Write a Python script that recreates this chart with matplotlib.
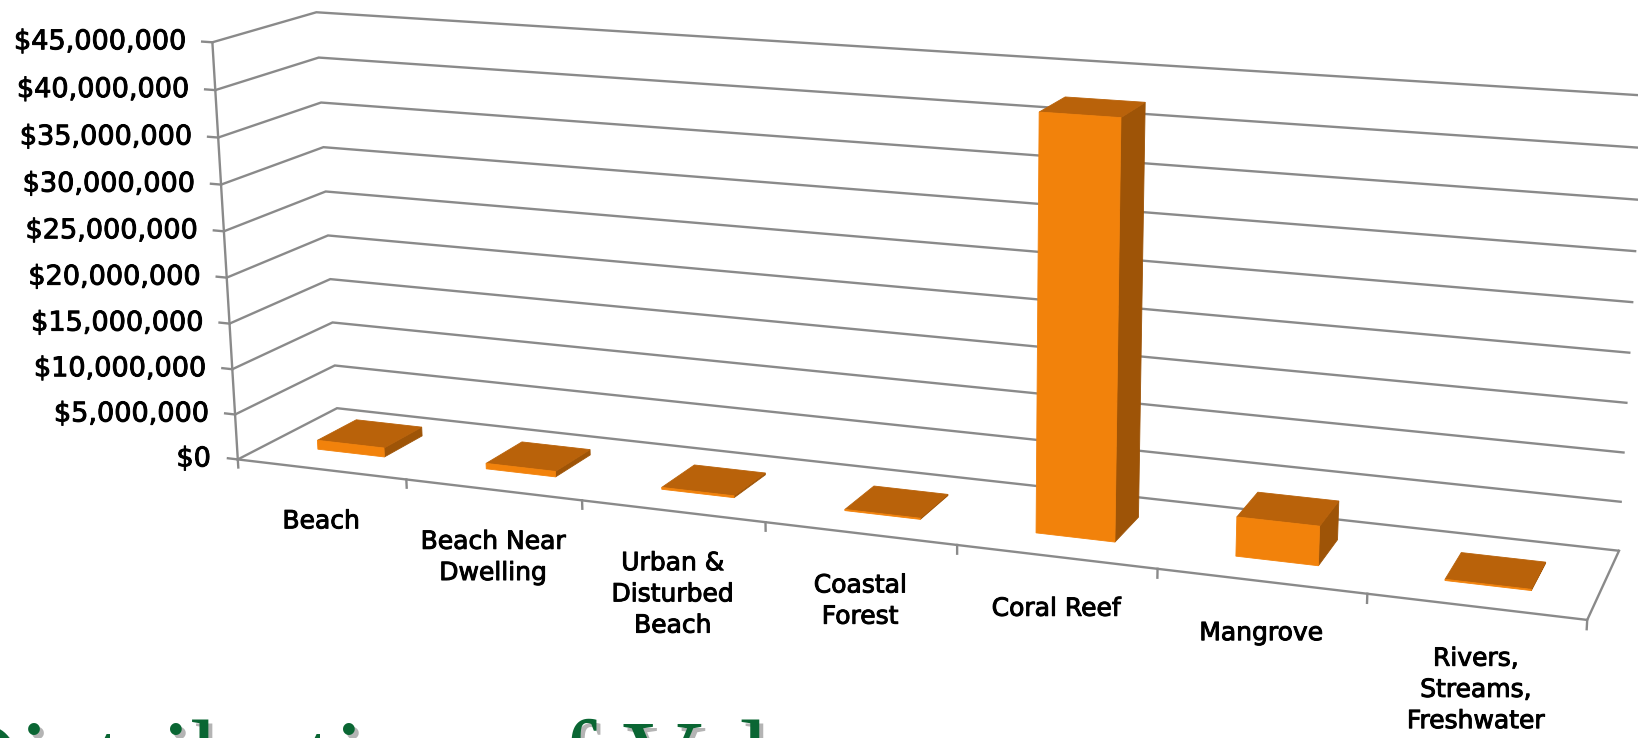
import numpy as np
import matplotlib
matplotlib.use("Agg")
import matplotlib.pyplot as plt
import matplotlib.patheffects as pe

# ---------------- data ----------------
categories = ["Beach", "Beach Near\nDwelling", "Urban &\nDisturbed\nBeach",
              "Coastal\nForest", "Coral Reef", "Mangrove",
              "Rivers,\nStreams,\nFreshwater"]
values = [1000000, 600000, 200000, 120000, 42400000, 4000000, 120000]
value_ticks = [0, 5000000, 10000000, 15000000, 20000000, 25000000,
               30000000, 35000000, 40000000, 45000000]
value_tick_labels = ["$0", "$5,000,000", "$10,000,000", "$15,000,000",
                     "$20,000,000", "$25,000,000", "$30,000,000",
                     "$35,000,000", "$40,000,000", "$45,000,000"]
title_text = "Distribution of Value"

# ---------------- layout / style ----------------
W, H = 1638, 738
y_max = value_ticks[-1]
n = len(categories)
bar_width = 0.4      # fraction of a category (gap width 150%)
bar_depth = 0.4      # fraction of the floor depth

# camera calibration: plot-frame anchors (category pos, depth 0=front 1=back, value) -> pixel
frame_anchors = [
    ((0, 0, 0), (237, 460)),
    ((0, 0, 45e6), (213, 42)),
    ((0, 1, 0), (337, 407)),
    ((0, 1, 45e6), (315, 12)),
    ((n, 0, 0), (1588, 619)),
    ((n, 1, 0), (1619, 551)),
    ((n, 1, 25e6), (1633, 303)),
    ((n, 1, 15e6), (1628, 403)),
    ((0, 0, 25e6), (224, 231)),
    ((0, 1, 25e6), (327, 192)),
    ((3, 0, 0), (765, 522)),
    ((5, 0, 0), (1157, 568)),
    ((1, 0, 0), (407, 481)),
    ((6, 0, 0), (1367, 594)),
]


def fit_camera(anchors):
    p3 = np.array([[a[0] / n, a[1], a[2] / y_max] for a, _ in anchors], float)
    p2 = np.array([b for _, b in anchors], float)
    m = p2.mean(0)
    s = p2.std()
    q = (p2 - m) / s
    rows = []
    for (X, Y, Z), (x, y) in zip(p3, q):
        rows.append([X, Y, Z, 1, 0, 0, 0, 0, -x * X, -x * Y, -x * Z, -x])
        rows.append([0, 0, 0, 0, X, Y, Z, 1, -y * X, -y * Y, -y * Z, -y])
    _, _, vt = np.linalg.svd(np.array(rows))
    return vt[-1].reshape(3, 4), m, s


P, M0, S0 = fit_camera(frame_anchors)


def project(X, Y, Z):
    h = P @ np.array([X / n, Y, Z / y_max, 1.0])
    return M0 + S0 * h[:2] / h[2]


def poly(pts):
    arr = np.array([project(*p) for p in pts])
    return arr[:, 0], arr[:, 1]


def signed_area(xs, ys):
    return 0.5 * np.sum(xs * np.roll(ys, -1) - np.roll(xs, -1) * ys)


grid_color = "#8a8a8a"
grid_lw = 1.7
front_color = "#F2820B"
top_color = "#B9620A"
side_color = "#9E5407"
text_fx = [pe.withStroke(linewidth=0.7, foreground="black")]

fig = plt.figure(figsize=(W / 100, H / 100), dpi=100)
ax = fig.add_axes([0, 0, 1, 1])
ax.set_xlim(0, W)
ax.set_ylim(H, 0)
ax.axis("off")

# ---------------- walls gridlines ----------------
for t in value_ticks:
    xs, ys = poly([(0, 0, t), (0, 1, t), (n, 1, t)])
    ax.plot(xs, ys, color=grid_color, lw=grid_lw, zorder=1,
            solid_joinstyle="miter", solid_capstyle="butt")

# floor front and right edges
xs, ys = poly([(0, 0, 0), (n, 0, 0), (n, 1, 0)])
ax.plot(xs, ys, color=grid_color, lw=grid_lw, zorder=1, solid_joinstyle="miter")

# value axis line
xs, ys = poly([(0, 0, 0), (0, 0, y_max)])
ax.plot(xs, ys, color=grid_color, lw=grid_lw, zorder=1)

# value-axis tick marks and labels
for t, lab in zip(value_ticks, value_tick_labels):
    xs, ys = poly([(0, 0, t), (-0.06, 0, t)])
    ax.plot(xs, ys, color=grid_color, lw=grid_lw, zorder=1)
    px, py = project(0, 0, t)
    ax.text(px - 27, py, lab, ha="right", va="center", fontsize=19.5,
            family="DejaVu Sans", color="black", path_effects=text_fx)

# category tick marks
for k in range(n + 1):
    xs, ys = poly([(k, 0, 0), (k, 0, -0.02 * y_max)])
    ax.plot(xs, ys, color=grid_color, lw=grid_lw, zorder=1)

# category labels
for i, lab in enumerate(categories):
    px, py = project(i + 0.5, 0, 0)
    ax.text(px, py + 40, lab, ha="center", va="top", multialignment="center",
            fontsize=18, family="DejaVu Sans", color="black", linespacing=1.38,
            path_effects=text_fx)

# ---------------- bars ----------------
for i, v in enumerate(values):
    x0 = i + (1 - bar_width) / 2
    x1 = x0 + bar_width
    y0 = (1 - bar_depth) / 2
    y1 = y0 + bar_depth
    z0, z1 = 0.0, float(v)
    front = [(x0, y0, z0), (x1, y0, z0), (x1, y0, z1), (x0, y0, z1)]
    right = [(x1, y0, z0), (x1, y1, z0), (x1, y1, z1), (x1, y0, z1)]
    left = [(x0, y1, z0), (x0, y0, z0), (x0, y0, z1), (x0, y1, z1)]
    top = [(x0, y0, z1), (x1, y0, z1), (x1, y1, z1), (x0, y1, z1)]
    fx, fy = poly(front)
    ref = np.sign(signed_area(fx, fy))
    for face, col in ((left, side_color), (right, side_color),
                      (top, top_color), (front, front_color)):
        xs, ys = poly(face)
        if np.sign(signed_area(xs, ys)) == ref:
            ax.fill(xs, ys, color=col, ec=col, lw=0.6, zorder=3)

# ---------------- slide title (partly cut off) ----------------
ax.text(-61 + 4, 796 + 4, title_text, ha="left", va="baseline", fontsize=80,
        family="Liberation Serif", color="#b4b4b4", clip_on=False, zorder=4)
ax.text(-61, 796, title_text, ha="left", va="baseline", fontsize=80,
        family="Liberation Serif", color="#0a6633", clip_on=False, zorder=5)

fig.savefig("out.png", dpi=100, facecolor="white")
